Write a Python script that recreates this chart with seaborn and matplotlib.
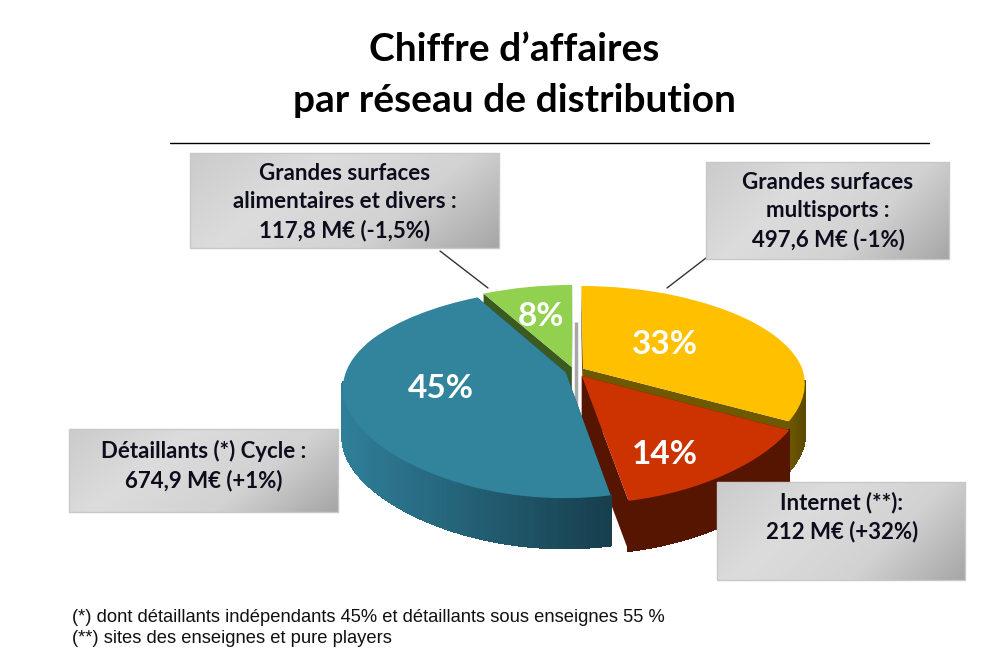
import numpy as np
import matplotlib
matplotlib.use("Agg")
import matplotlib.pyplot as plt
import seaborn as sns
from matplotlib.collections import PolyCollection
from matplotlib.patches import Polygon, Rectangle
from matplotlib.transforms import Transform

# Data
segments = ["Grandes surfaces multisports", "Internet", "Détaillants Cycle", "Grandes surfaces alimentaires"]
shares = [33, 14, 45, 8]
explode = [0.048, 0.06, 0.04, 0.04]
top_colors = ["#FFC000", "#CC3300", "#31849B", "#92D050"]
wall_colors = [["#6E5800", "#5C4A00"], ["#561500", "#561500"], ["#2F7F99", "#173F4E"], ["#3B5A20", "#3B5A20"]]
title_lines = "Chiffre d’affaires\npar réseau de distribution"
box_texts = [
    "Grandes surfaces\nalimentaires et divers :\n117,8 M€ (-1,5%)",
    "Grandes surfaces\nmultisports :\n497,6 M€ (-1%)",
    "Détaillants (*) Cycle :\n674,9 M€ (+1%)",
    "Internet (**):\n212 M€ (+32%)",
]
notes = "(*) dont détaillants indépendants 45% et détaillants sous enseignes 55 %\n(**) sites des enseignes et pure players"

# Layout, in pixels of the 1000x666 picture
CX, CY = 574, 371
RX, RY = 220, 100
TILT_X, BEND_X, TILT_Y = 0.16, 0.06, 0.2
DEPTH = 50
share_label_pos = [(665, 344), (665, 454), (441, 388), (541, 316)]
boxes = [(190, 153, 309, 95), (706, 162, 243, 97), (69, 429, 269, 83), (717, 482, 248, 98)]
box_text_pos = [(345, 202), (828, 211), (204, 466), (842, 517)]
leaders = [((440, 251), (488, 288)), ((706, 258), (667, 288))]

sns.set_theme(style="white")
plt.rcParams["font.family"] = ["Lato", "DejaVu Sans"]


def project(x, y):
    return CX + RX * x / (1 + TILT_X * y + BEND_X * y * y), CY - RY * y / (1 + TILT_Y * y)


class TiltedPlane(Transform):
    # flat pie plane -> pixel coordinates seen from above
    input_dims = output_dims = 2
    is_separable = False
    has_inverse = False

    def transform_non_affine(self, values):
        values = np.asarray(values)
        px, py = project(values[:, 0], values[:, 1])
        return np.column_stack([px, py])


fig = plt.figure(figsize=(10, 6.66), dpi=100)
ax = fig.add_axes([0, 0, 1, 1])

wedges, _ = ax.pie(shares, explode=explode, colors=top_colors, startangle=90, counterclock=False)
ax.set_aspect("auto")
plane = TiltedPlane() + ax.transData
draw_order = {0: 2, 1: 3, 2: 4, 3: 1}

for i, wedge in enumerate(wedges):
    z = draw_order[i]
    wedge.set_transform(plane)
    wedge.set_zorder(z + 0.5)
    wedge.set_linewidth(0)

    ox, oy = wedge.center
    t = np.radians(np.linspace(wedge.theta1, wedge.theta2, 120))
    ex, ey = ox + np.cos(t), oy + np.sin(t)
    tx, ty = project(ex, ey)

    # cut faces, from the apex to both ends of the arc
    ax_px, ay_px = project(ox, oy)
    for k in (0, -1):
        face = [(ax_px, ay_px), (tx[k], ty[k]), (tx[k], ty[k] + DEPTH), (ax_px, ay_px + DEPTH)]
        shade = wall_colors[i][0] if i != 2 else wall_colors[i][1]
        ax.add_patch(Polygon(face, closed=True, color=shade, lw=0, zorder=z + 0.1))

    # outer wall, shaded from left to right, front part only
    front = [j for j in range(len(t) - 1) if ey[j] < -0.1]
    if front:
        quads = [[(tx[j], ty[j]), (tx[j + 1], ty[j + 1]), (tx[j + 1], ty[j + 1] + DEPTH), (tx[j], ty[j] + DEPTH)]
                 for j in front]
        ramp = sns.blend_palette(wall_colors[i], n_colors=256)
        pos = (tx[front] - tx[front].min()) / max(np.ptp(tx[front]), 1)
        cols = [ramp[int(p * 255)] for p in pos]
        ax.add_collection(PolyCollection(quads, facecolors=cols, edgecolors=cols, linewidths=1.0,
                                         antialiaseds=False, zorder=z + 0.2))

# grey sliver in the gap between the slices
ax.plot([576, 576], [322, 416], color="#A8A8A8", lw=2.5, zorder=2.05, solid_capstyle="butt")

for (x, y), s in zip(share_label_pos, shares):
    ax.text(x, y, f"{s}%", color="white", fontsize=24, fontweight="bold", ha="center", va="center", zorder=9)

# grey boxes with a diagonal gradient
grey = sns.blend_palette(["#CBCBCB", "#DCDCDC", "#D2D2D2", "#A6A6A6"], n_colors=256, as_cmap=True)
gx, gy = np.meshgrid(np.linspace(0, 1, 200), np.linspace(0, 1, 100))
for (bx, by, bw, bh), (tx0, ty0), txt in zip(boxes, box_text_pos, box_texts):
    ax.imshow(0.72 * gx + 0.28 * gy, cmap=grey, vmin=0, vmax=1, extent=(bx, bx + bw, by + bh, by),
              origin="upper", aspect="auto", zorder=10)
    ax.add_patch(Rectangle((bx, by), bw, bh, fill=False, ec="#C8C8C8", lw=1, zorder=10.5))
    ax.text(tx0, ty0, txt, color="#0C0C1C", fontsize=16, fontweight="bold", ha="center", va="center",
            linespacing=1.43, zorder=11)

for (p0, p1) in leaders:
    ax.plot([p0[0], p1[0]], [p0[1], p1[1]], color="#333333", lw=1, zorder=8)

ax.text(514, 75, title_lines, color="black", fontsize=28, fontweight="bold", ha="center", va="center", linespacing=1.55)
ax.plot([170, 929], [143, 143], color="black", lw=1)
ax.text(72, 628, notes, color="#111111", fontsize=13.2, family=["Liberation Sans"], ha="left", va="center", linespacing=1.32)

ax.set_xlim(0, 1000)
ax.set_ylim(666, 0)
ax.set_axis_off()
fig.savefig("out.png", dpi=100)
